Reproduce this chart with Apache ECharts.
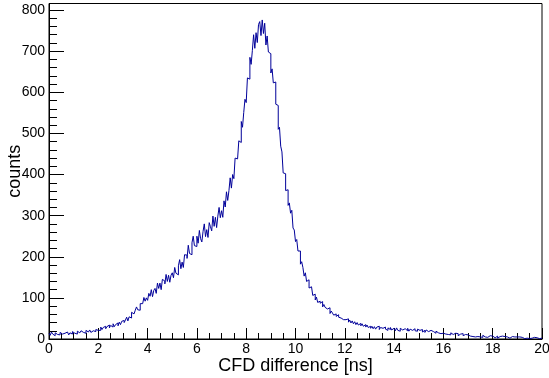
<!DOCTYPE html>
<html>
<head>
<meta charset="utf-8">
<script src="https://cdn.jsdelivr.net/npm/echarts@6/dist/echarts.min.js"></script>
<style>html,body{margin:0;padding:0;background:#fff}#c{width:549px;height:378px}</style>
</head>
<body>
<div id="c"></div>
<script>
// Histogram: CFD difference [ns], bins of 0.05 ns from 0 to 20
const binStart = 0;
const binWidth = 0.05;
const counts = [
  // 0-1
  14, 9, 17, 12, 8, 15, 11, 13, 10, 16, 12, 9, 14, 11, 17, 13, 10, 15, 12, 18,
  // 1-2
  14, 17, 12, 19, 15, 13, 20, 16, 18, 14, 21, 17, 19, 22, 16, 20, 24, 18, 23, 21,
  // 2-3
  25, 21, 29, 23, 28, 31, 25, 30, 34, 27, 33, 29, 37, 30, 35, 39, 32, 41, 35, 43,
  // 3-4
  45, 40, 46, 53, 44, 54, 51, 65, 61, 58, 70, 78, 71, 70, 86, 86, 85, 101, 92, 100,
  // 4-5
  94, 111, 104, 120, 103, 118, 123, 111, 136, 123, 136, 120, 145, 141, 134, 157, 140, 155, 138, 155,
  // 5-6
  161, 149, 174, 160, 156, 178, 193, 171, 187, 174, 205, 204, 196, 228, 208, 205, 234, 250, 227, 225,
  // 6-7
  250, 233, 264, 244, 236, 262, 280, 249, 266, 247, 283, 273, 263, 299, 274, 296, 271, 299, 320, 295,
  // 7-8
  312, 296, 336, 321, 358, 337, 361, 392, 367, 400, 390, 440, 438, 434, 482, 478, 529, 515, 551, 583,
  // 8-9
  575, 635, 632, 685, 668, 702, 740, 707, 745, 721, 765, 772, 738, 776, 743, 768, 715, 737, 698, 694,
  // 9-10
  647, 657, 623, 625, 571, 568, 510, 515, 469, 455, 404, 402, 361, 363, 325, 331, 306, 313, 270, 265,
  // 10-11
  237, 242, 214, 214, 182, 188, 174, 153, 161, 140, 144, 124, 127, 126, 106, 109, 95, 102, 89, 92,
  // 11-12
  87, 91, 78, 84, 77, 73, 70, 76, 62, 68, 63, 58, 61, 55, 59, 53, 51, 55, 47, 50,
  // 12-13
  47, 43, 49, 41, 46, 39, 44, 37, 42, 35, 40, 34, 38, 32, 37, 31, 35, 29, 34, 28,
  // 13-14
  31, 26, 31, 25, 30, 24, 29, 31, 23, 28, 26, 22, 29, 24, 21, 27, 23, 28, 22, 26,
  // 14-15
  24, 20, 27, 21, 19, 26, 22, 18, 25, 21, 20, 26, 19, 24, 21, 18, 25, 20, 19, 24,
  // 15-16
  21, 18, 23, 17, 21, 16, 22, 18, 15, 21, 17, 18, 20, 14, 19, 15, 18, 13, 17, 14,
  // 16-17
  16, 12, 16, 11, 15, 10, 15, 11, 9, 14, 10, 13, 8, 12, 9, 13, 8, 11, 7, 10,
  // 17-18
  9, 7, 11, 6, 10, 5, 9, 6, 10, 5, 8, 4, 9, 5, 8, 4, 7, 8, 4, 7,
  // 18-19
  6, 3, 6, 7, 2, 6, 3, 7, 3, 6, 2, 5, 6, 2, 5, 6, 2, 5, 2, 5,
  // 19-20
  3, 5, 1, 4, 5, 1, 4, 2, 4, 1, 3, 2, 1, 4, 1, 3, 2, 1, 3, 2
];
const xTitle = 'CFD difference [ns]';
const yTitle = 'counts';
const xMin = 0, xMax = 20, xStep = 2;
const yMin = 0, yMax = 816, yStep = 100;

const pts = counts.map((v, i) => [binStart + i * binWidth, v]);
pts.push([binStart + counts.length * binWidth, counts[counts.length - 1]]);

const chart = echarts.init(document.getElementById('c'), null, {renderer: 'canvas'});
const font = 'Liberation Sans, Arial, Helvetica, sans-serif';
chart.setOption({
  animation: false,
  backgroundColor: '#fff',
  grid: {left: 49, right: 7, top: 3.5, bottom: 39, containLabel: false, outerBoundsMode: 'none',
    show: true, borderColor: '#000', borderWidth: 1, backgroundColor: 'transparent'},
  xAxis: {
    type: 'value', min: xMin, max: xMax, interval: xStep,
    name: xTitle, nameLocation: 'middle', nameGap: 18, nameMoveOverlap: false,
    nameTextStyle: {fontFamily: font, fontSize: 18, color: '#000'},
    axisLine: {show: true, onZero: false, lineStyle: {color: '#000', width: 1}},
    axisTick: {show: true, inside: true, length: 11, lineStyle: {color: '#000', width: 1}},
    minorTick: {show: true, splitNumber: 4, length: 6, lineStyle: {color: '#000', width: 1}},
    axisLabel: {fontFamily: font, fontSize: 14, color: '#000', margin: 3},
    splitLine: {show: false}
  },
  yAxis: {
    type: 'value', min: yMin, max: yMax, interval: yStep,
    name: yTitle, nameLocation: 'middle', nameGap: 25, nameMoveOverlap: false,
    nameTextStyle: {fontFamily: font, fontSize: 18, color: '#000'},
    axisLine: {show: true, lineStyle: {color: '#000', width: 1}},
    axisTick: {show: true, inside: true, length: 15, lineStyle: {color: '#000', width: 1}},
    minorTick: {show: true, splitNumber: 5, length: 8, lineStyle: {color: '#000', width: 1}},
    axisLabel: {fontFamily: font, fontSize: 14, color: '#000', margin: 4, showMaxLabel: false,
      formatter: v => (v % 100 === 0 ? String(v) : '')},
    splitLine: {show: false}
  },
  series: [{
    type: 'line', step: 'end', data: pts, showSymbol: false, symbol: 'none',
    lineStyle: {color: '#000099', width: 1}, clip: true
  }]
});
</script>
</body>
</html>
